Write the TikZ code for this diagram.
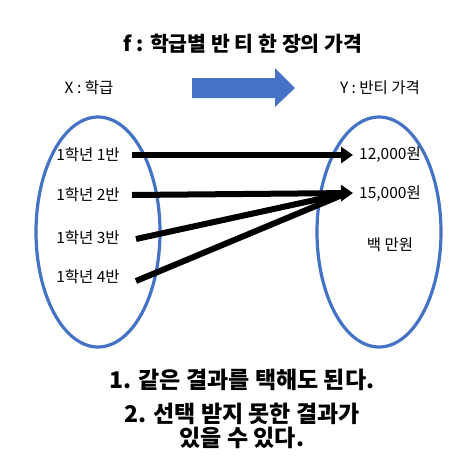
\documentclass[tikz,border=0pt]{standalone}
\usepackage{fontspec}
\setmainfont{Noto Sans CJK KR}
\usetikzlibrary{arrows.meta,calc}
\definecolor{blu}{HTML}{4472C4}
\begin{document}
\begin{tikzpicture}[x=1pt,y=-1pt,
  lbl/.style={inner sep=0pt,font=\fontsize{15.5}{17}\selectfont},
  big/.style={inner sep=0pt,font=\fontsize{23}{23.5}\selectfont\bfseries,align=center},
  set/.style={draw=blu,line width=3.2pt},
  mapto/.style={line width=6pt,-{Triangle[length=12pt,width=16pt]}},
  mapno/.style={line width=6pt}]
\useasboundingbox (0,0) rectangle (469,472);
\node[big,font=\fontsize{20.5}{22}\selectfont\bfseries] (title) at (243,44) {f : 학급별 반 티 한 장의 가격};
\node[lbl] (X) at (89,88) {X : 학급};
\node[lbl] (Y) at (380,88) {Y : 반티 가격};
\fill[blu] (192,78) -- (275,78) -- (275,68) -- (295,88) -- (275,107) -- (275,98) -- (192,98) -- cycle;
\draw[set] (98,232) ellipse [x radius=62,y radius=115];
\draw[set] (379,232) ellipse [x radius=62,y radius=115];
\node[lbl] (a1) at (88,155) {1학년 1반};
\node[lbl] (a2) at (88,195) {1학년 2반};
\node[lbl] (a3) at (88,238) {1학년 3반};
\node[lbl] (a4) at (88,277) {1학년 4반};
\node[lbl] (b1) at (390,155) {12,000원};
\node[lbl] (b2) at (390,194) {15,000원};
\node[lbl] (b3) at (390,245) {백 만원};
\coordinate (s1) at (132,155);
\coordinate (s2) at (132,195);
\coordinate (s3) at (136,239);
\coordinate (s4) at (136,281);
\coordinate (t1) at (353,155);
\coordinate (t2) at (353,193);
\draw[mapno] (s3) -- ($(t2)+(-6,0)$);
\draw[mapno] (s4) -- ($(t2)+(-6,0)$);
\draw[mapto] (s1) -- (t1);
\draw[mapto] (s2) -- (t2);
\node[big] (n1) at (242,380) {1. 같은 결과를 택해도 된다.};
\node[big] (n2) at (242,426) {2. 선택 받지 못한 결과가\\있을 수 있다.};
\end{tikzpicture}
\end{document}
